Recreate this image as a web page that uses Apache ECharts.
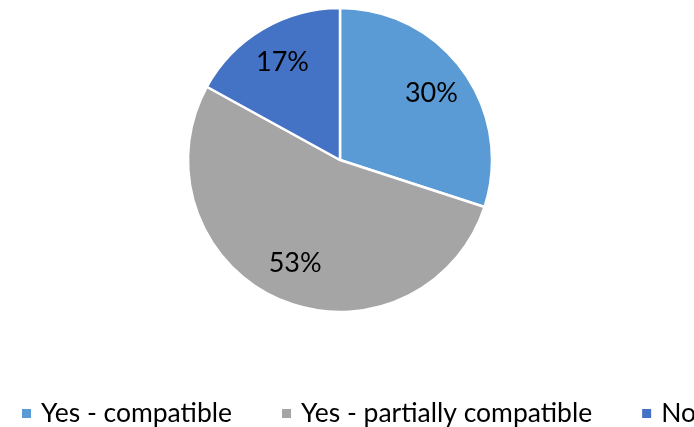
<!DOCTYPE html>
<html>
<head>
<meta charset="utf-8">
<script src="https://cdn.jsdelivr.net/npm/echarts@6/dist/echarts.min.js"></script>
<style>
  html, body { margin: 0; padding: 0; background: #fff; }
  #chart { width: 694px; height: 427px; }
</style>
</head>
<body>
<div id="chart"></div>
<script>
// Survey answers and their shares (percent)
const categories = ['Yes - compatible', 'Yes - partially compatible', 'No'];
const shares = [30, 53, 17];
const colors = ['#5B9BD5', '#A5A5A5', '#4472C4'];

const FONT = 'Lato, "Open Sans", sans-serif';

const pieData = categories.map((name, i) => ({
  name: name,
  value: shares[i],
  itemStyle: { color: colors[i] }
}));

const chart = echarts.init(document.getElementById('chart'), null, { renderer: 'canvas' });
chart.setOption({
  animation: false,
  backgroundColor: '#ffffff',
  legend: {
    data: categories,
    orient: 'horizontal',
    left: 15,
    top: 395,
    width: 1000,
    itemWidth: 11,
    itemHeight: 11,
    itemGap: 48,
    icon: 'rect',
    textStyle: { fontFamily: FONT, fontSize: 26.5, color: '#000', padding: [0, 0, 0, 4] }
  },
  series: [
    {
      // the pie itself
      type: 'pie',
      center: [340, 160],
      radius: [0, 152],
      startAngle: 90,
      clockwise: true,
      data: pieData,
      label: { show: false },
      labelLine: { show: false },
      itemStyle: { borderColor: '#ffffff', borderWidth: 2.5 },
      emphasis: { disabled: true }
    },
    {
      // percentage labels, placed in a ring at ~72% of the radius
      type: 'pie',
      center: [340, 160],
      radius: [68, 152],
      startAngle: 90,
      clockwise: true,
      silent: true,
      legendHoverLink: false,
      data: categories.map((name, i) => ({ name: name, value: shares[i] })),
      itemStyle: { color: 'rgba(0,0,0,0)' },
      label: {
        show: true,
        position: 'inside',
        formatter: p => p.value + '%',
        fontFamily: FONT,
        fontSize: 27,
        color: '#000'
      },
      labelLine: { show: false },
      emphasis: { disabled: true }
    }
  ]
});
</script>
</body>
</html>
